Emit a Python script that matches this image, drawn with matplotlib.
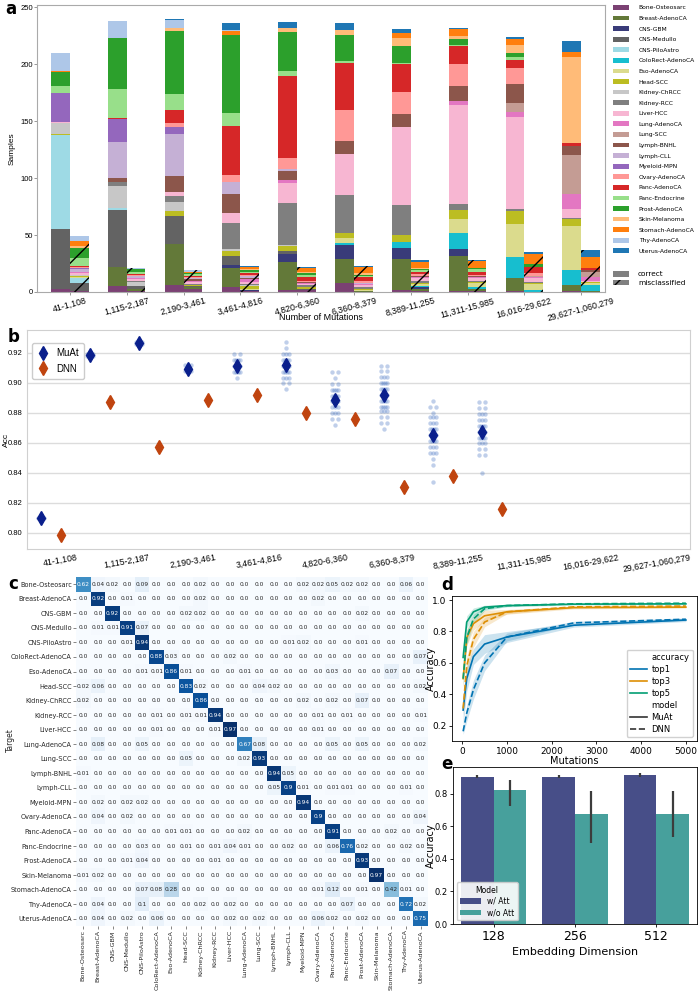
import numpy as np
import matplotlib
matplotlib.use("Agg")
import matplotlib.pyplot as plt
from matplotlib.patches import Patch
from matplotlib.lines import Line2D

# ---------------- data ----------------
classes = ["Bone-Osteosarc", "Breast-AdenoCA", "CNS-GBM", "CNS-Medullo", "CNS-PiloAstro",
           "ColoRect-AdenoCA", "Eso-AdenoCA", "Head-SCC", "Kidney-ChRCC", "Kidney-RCC",
           "Liver-HCC", "Lung-AdenoCA", "Lung-SCC", "Lymph-BNHL", "Lymph-CLL",
           "Myeloid-MPN", "Ovary-AdenoCA", "Panc-AdenoCA", "Panc-Endocrine", "Prost-AdenoCA",
           "Skin-Melanoma", "Stomach-AdenoCA", "Thy-AdenoCA", "Uterus-AdenoCA"]
class_colors = ["#7b4173", "#637939", "#393b79", "#636363", "#9edae5", "#17becf", "#dbdb8d",
                "#bcbd22", "#c7c7c7", "#7f7f7f", "#f7b6d2", "#e377c2", "#c49c94", "#8c564b",
                "#c5b0d5", "#9467bd", "#ff9896", "#d62728", "#98df8a", "#2ca02c", "#ffbb78",
                "#ff7f0e", "#aec7e8", "#1f77b4"]
mut_bins = ["41-1,108", "1,115-2,187", "2,190-3,461", "3,461-4,816", "4,820-6,360",
            "6,360-8,379", "8,389-11,255", "11,311-15,985", "16,016-29,622", "29,627-1,060,279"]

# panel a: samples per class (class order above), correct / misclassified per mutation bin
correct_b1 = [3, 0, 0, 52, 83, 0, 0, 1, 9, 0, 1, 0, 0, 0, 0, 26, 0, 0, 6, 12, 0, 1, 16, 0]
correct_b2 = [5, 17, 0, 50, 2, 0, 0, 0, 19, 4, 0, 0, 0, 3, 32, 20, 0, 1, 25, 45, 0, 0, 15, 0]
correct_b3 = [6, 36, 0, 25, 0, 0, 0, 4, 8, 5, 4, 0, 0, 14, 37, 6, 3, 12, 14, 55, 3, 0, 7, 1]
correct_b4 = [4, 17, 3, 8, 0, 0, 0, 4, 2, 23, 8, 0, 0, 17, 11, 0, 6, 43, 11, 69, 0, 3, 1, 6]
correct_b5 = [2, 24, 7, 3, 0, 0, 0, 4, 1, 37, 18, 2, 0, 8, 2, 0, 10, 72, 4, 34, 4, 0, 0, 5]
correct_b6 = [8, 21, 12, 0, 0, 2, 4, 5, 0, 33, 36, 0, 0, 12, 0, 0, 27, 41, 2, 23, 4, 0, 0, 6]
correct_b7 = [2, 27, 10, 0, 0, 5, 0, 6, 0, 26, 69, 0, 0, 11, 0, 0, 20, 24, 1, 15, 7, 4, 0, 4]
correct_b8 = [1, 31, 6, 0, 0, 14, 12, 8, 0, 5, 87, 4, 0, 13, 0, 0, 19, 16, 1, 5, 3, 6, 0, 1]
correct_b9 = [1, 11, 0, 0, 0, 19, 29, 11, 0, 2, 81, 4, 8, 17, 0, 0, 14, 7, 2, 4, 7, 5, 0, 2]
correct_b10 = [1, 5, 0, 0, 0, 13, 39, 6, 0, 1, 8, 13, 34, 8, 0, 0, 0, 3, 0, 0, 75, 5, 0, 9]

wrong_b1 = [1, 0, 0, 7, 4, 0, 1, 1, 1, 0, 2, 1, 0, 0, 2, 1, 1, 1, 7, 9, 1, 5, 4, 0]
wrong_b2 = [1, 2, 0, 2, 0, 0, 0, 0, 4, 1, 1, 1, 0, 0, 2, 0, 1, 1, 2, 2, 0, 0, 1, 0]
wrong_b3 = [3, 1, 0, 1, 0, 0, 0, 1, 0, 1, 2, 1, 0, 1, 1, 0, 1, 1, 2, 1, 0, 1, 1, 0]
wrong_b4 = [1, 0, 1, 0, 0, 0, 1, 2, 1, 1, 2, 2, 0, 1, 2, 0, 1, 2, 1, 1, 1, 2, 0, 1]
wrong_b5 = [2, 0, 0, 1, 0, 0, 0, 1, 0, 2, 1, 1, 0, 1, 0, 0, 1, 3, 2, 2, 1, 3, 0, 1]
wrong_b6 = [0, 1, 0, 0, 0, 0, 1, 1, 0, 1, 2, 1, 0, 0, 1, 0, 2, 3, 1, 1, 2, 5, 0, 1]
wrong_b7 = [1, 2, 1, 0, 0, 1, 2, 1, 0, 2, 2, 1, 0, 1, 0, 0, 2, 2, 1, 1, 1, 5, 0, 2]
wrong_b8 = [1, 2, 0, 0, 0, 1, 4, 1, 0, 1, 2, 1, 0, 1, 0, 0, 1, 3, 2, 1, 0, 6, 0, 1]
wrong_b9 = [0, 0, 0, 0, 0, 2, 5, 1, 0, 1, 3, 1, 1, 0, 0, 0, 3, 5, 0, 3, 0, 8, 0, 2]
wrong_b10 = [0, 1, 0, 0, 0, 5, 2, 1, 0, 0, 1, 3, 5, 1, 0, 0, 0, 2, 0, 0, 0, 10, 0, 6]

# panel b: accuracy per mutation bin
muat_acc = [0.810, 0.9184, 0.9264, 0.9095, 0.9111, 0.9118, 0.8884, 0.8922, 0.8653, 0.8671]
muat_err = [0.002, 0.002, 0.002, 0.002, 0.003, 0.003, 0.003, 0.003, 0.003, 0.003]
dnn_acc = [0.7982, 0.8873, 0.8573, 0.8887, 0.8916, 0.8800, 0.8758, 0.8307, 0.8378, 0.8160]
dnn_err = [0.0015, 0.0015, 0.0015, 0.0015, 0.0015, 0.0015, 0.0015, 0.0015, 0.0015, 0.0015]
# individual MuAt runs: accuracy levels and how many runs at each level
runs_lv_0 = [0.809, 0.810, 0.811]; runs_n_0 = [1, 3, 1]
runs_lv_1 = [0.918, 0.919]; runs_n_1 = [2, 2]
runs_lv_2 = [0.926, 0.927]; runs_n_2 = [2, 2]
runs_lv_3 = [0.908, 0.912]; runs_n_3 = [3, 3]
runs_lv_4 = [0.903, 0.907, 0.911, 0.915, 0.919]; runs_n_4 = [1, 4, 6, 4, 2]
runs_lv_5 = [0.896, 0.900, 0.903, 0.907, 0.911, 0.915, 0.919, 0.923, 0.927]
runs_n_5 = [1, 2, 3, 4, 5, 4, 3, 1, 1]
runs_lv_6 = [0.872, 0.876, 0.880, 0.884, 0.888, 0.891, 0.895, 0.899, 0.903, 0.907]
runs_n_6 = [1, 2, 3, 3, 5, 4, 4, 2, 1, 2]
runs_lv_7 = [0.869, 0.873, 0.877, 0.881, 0.884, 0.888, 0.892, 0.896, 0.900, 0.904, 0.908, 0.911]
runs_n_7 = [1, 2, 2, 3, 4, 4, 5, 4, 4, 3, 2, 2]
runs_lv_8 = [0.834, 0.845, 0.849, 0.853, 0.857, 0.861, 0.865, 0.869, 0.873, 0.877, 0.880, 0.884, 0.888]
runs_n_8 = [1, 1, 1, 3, 3, 4, 5, 4, 3, 3, 1, 2, 1]
runs_lv_9 = [0.840, 0.852, 0.856, 0.860, 0.863, 0.867, 0.871, 0.875, 0.879, 0.883, 0.887]
runs_n_9 = [1, 2, 2, 3, 4, 5, 4, 3, 3, 2, 2]

# panel c: confusion matrix rows (target) x columns (prediction)
cm_bone = [0.62, 0.04, 0.02, 0.0, 0.09, 0.0, 0.0, 0.0, 0.02, 0.0, 0.0, 0.0, 0.0, 0.0, 0.0, 0.02, 0.02, 0.05, 0.02, 0.02, 0.0, 0.0, 0.06, 0.0]
cm_breast = [0.0, 0.92, 0.0, 0.01, 0.0, 0.0, 0.0, 0.0, 0.02, 0.0, 0.0, 0.0, 0.0, 0.0, 0.0, 0.0, 0.02, 0.0, 0.0, 0.0, 0.0, 0.0, 0.0, 0.0]
cm_gbm = [0.0, 0.0, 0.92, 0.0, 0.0, 0.0, 0.0, 0.02, 0.02, 0.0, 0.0, 0.0, 0.0, 0.0, 0.0, 0.0, 0.0, 0.0, 0.0, 0.02, 0.0, 0.0, 0.0, 0.0]
cm_medullo = [0.0, 0.01, 0.01, 0.91, 0.07, 0.0, 0.0, 0.0, 0.0, 0.0, 0.0, 0.0, 0.0, 0.0, 0.0, 0.0, 0.0, 0.0, 0.0, 0.0, 0.0, 0.0, 0.0, 0.0]
cm_pilo = [0.0, 0.0, 0.0, 0.01, 0.94, 0.0, 0.0, 0.0, 0.0, 0.0, 0.0, 0.0, 0.0, 0.0, 0.01, 0.02, 0.0, 0.0, 0.0, 0.01, 0.0, 0.0, 0.0, 0.0]
cm_colorect = [0.0, 0.0, 0.0, 0.0, 0.0, 0.88, 0.03, 0.0, 0.0, 0.0, 0.02, 0.0, 0.0, 0.0, 0.0, 0.0, 0.0, 0.0, 0.0, 0.0, 0.0, 0.0, 0.0, 0.07]
cm_eso = [0.0, 0.0, 0.0, 0.0, 0.01, 0.01, 0.86, 0.01, 0.0, 0.0, 0.0, 0.01, 0.0, 0.0, 0.0, 0.0, 0.0, 0.03, 0.0, 0.0, 0.0, 0.07, 0.0, 0.0]
cm_head = [0.02, 0.06, 0.0, 0.0, 0.0, 0.0, 0.0, 0.83, 0.02, 0.0, 0.0, 0.0, 0.04, 0.02, 0.0, 0.0, 0.0, 0.0, 0.0, 0.0, 0.0, 0.0, 0.0, 0.02]
cm_chrcc = [0.02, 0.0, 0.0, 0.0, 0.0, 0.0, 0.0, 0.0, 0.86, 0.0, 0.0, 0.0, 0.0, 0.0, 0.0, 0.02, 0.0, 0.02, 0.0, 0.07, 0.0, 0.0, 0.0, 0.0]
cm_rcc = [0.0, 0.0, 0.0, 0.0, 0.0, 0.01, 0.0, 0.01, 0.01, 0.94, 0.0, 0.0, 0.0, 0.0, 0.0, 0.0, 0.01, 0.0, 0.01, 0.0, 0.0, 0.0, 0.0, 0.01]
cm_liver = [0.0, 0.0, 0.0, 0.0, 0.0, 0.01, 0.0, 0.0, 0.0, 0.01, 0.97, 0.0, 0.0, 0.0, 0.0, 0.0, 0.01, 0.0, 0.0, 0.0, 0.0, 0.0, 0.0, 0.0]
cm_lungad = [0.0, 0.08, 0.0, 0.0, 0.05, 0.0, 0.0, 0.0, 0.0, 0.0, 0.0, 0.67, 0.08, 0.0, 0.0, 0.0, 0.0, 0.05, 0.0, 0.05, 0.0, 0.0, 0.0, 0.02]
cm_lungscc = [0.0, 0.0, 0.0, 0.0, 0.0, 0.0, 0.0, 0.05, 0.0, 0.0, 0.0, 0.02, 0.93, 0.0, 0.0, 0.0, 0.0, 0.0, 0.0, 0.0, 0.0, 0.0, 0.0, 0.0]
cm_bnhl = [0.01, 0.0, 0.0, 0.0, 0.0, 0.0, 0.0, 0.0, 0.0, 0.0, 0.0, 0.0, 0.0, 0.94, 0.05, 0.0, 0.0, 0.0, 0.0, 0.0, 0.0, 0.0, 0.0, 0.0]
cm_cll = [0.0, 0.0, 0.0, 0.0, 0.0, 0.0, 0.0, 0.0, 0.0, 0.0, 0.0, 0.0, 0.0, 0.05, 0.9, 0.01, 0.0, 0.01, 0.01, 0.0, 0.0, 0.0, 0.01, 0.0]
cm_myeloid = [0.0, 0.02, 0.0, 0.02, 0.02, 0.0, 0.0, 0.0, 0.0, 0.0, 0.0, 0.0, 0.0, 0.0, 0.0, 0.94, 0.0, 0.0, 0.0, 0.0, 0.0, 0.0, 0.0, 0.0]
cm_ovary = [0.0, 0.04, 0.0, 0.02, 0.0, 0.0, 0.0, 0.0, 0.0, 0.0, 0.0, 0.0, 0.0, 0.0, 0.0, 0.0, 0.9, 0.0, 0.0, 0.0, 0.0, 0.0, 0.0, 0.04]
cm_pancad = [0.0, 0.0, 0.0, 0.0, 0.0, 0.0, 0.01, 0.01, 0.0, 0.0, 0.0, 0.02, 0.0, 0.0, 0.0, 0.0, 0.0, 0.91, 0.0, 0.0, 0.0, 0.02, 0.0, 0.0]
cm_pancendo = [0.0, 0.0, 0.0, 0.0, 0.03, 0.0, 0.0, 0.01, 0.0, 0.01, 0.04, 0.01, 0.0, 0.0, 0.02, 0.0, 0.0, 0.06, 0.76, 0.02, 0.0, 0.0, 0.02, 0.0]
cm_prost = [0.0, 0.0, 0.0, 0.01, 0.04, 0.0, 0.0, 0.0, 0.0, 0.01, 0.0, 0.0, 0.0, 0.0, 0.0, 0.0, 0.0, 0.0, 0.0, 0.93, 0.0, 0.0, 0.0, 0.0]
cm_skin = [0.01, 0.02, 0.0, 0.0, 0.0, 0.0, 0.0, 0.0, 0.0, 0.0, 0.0, 0.0, 0.0, 0.0, 0.0, 0.0, 0.0, 0.0, 0.0, 0.0, 0.97, 0.0, 0.0, 0.0]
cm_stomach = [0.0, 0.0, 0.0, 0.0, 0.07, 0.08, 0.28, 0.0, 0.0, 0.0, 0.0, 0.0, 0.0, 0.0, 0.0, 0.0, 0.01, 0.12, 0.0, 0.01, 0.0, 0.42, 0.01, 0.0]
cm_thy = [0.0, 0.04, 0.0, 0.0, 0.1, 0.0, 0.0, 0.0, 0.02, 0.0, 0.02, 0.0, 0.0, 0.0, 0.0, 0.0, 0.0, 0.0, 0.07, 0.0, 0.0, 0.0, 0.72, 0.02]
cm_uterus = [0.0, 0.04, 0.0, 0.02, 0.0, 0.06, 0.0, 0.0, 0.0, 0.0, 0.02, 0.0, 0.02, 0.0, 0.0, 0.0, 0.06, 0.02, 0.0, 0.02, 0.0, 0.0, 0.0, 0.75]

# panel d: accuracy vs number of mutations
mut_x = [20, 100, 250, 500, 1000, 2500, 5000]
muat_top1 = [0.30, 0.50, 0.64, 0.72, 0.765, 0.84, 0.873]
muat_top3 = [0.50, 0.76, 0.85, 0.90, 0.925, 0.952, 0.955]
muat_top5 = [0.635, 0.86, 0.925, 0.955, 0.965, 0.974, 0.976]
dnn_top1 = [0.165, 0.28, 0.43, 0.60, 0.765, 0.855, 0.878]
dnn_top3 = [0.31, 0.58, 0.75, 0.86, 0.925, 0.957, 0.962]
dnn_top5 = [0.50, 0.76, 0.88, 0.945, 0.965, 0.976, 0.98]
muat_top1_ci = [0.10, 0.08, 0.05, 0.06, 0.035, 0.012, 0.01]
muat_top3_ci = [0.06, 0.05, 0.04, 0.035, 0.015, 0.008, 0.006]
muat_top5_ci = [0.05, 0.04, 0.025, 0.012, 0.008, 0.005, 0.005]
dnn_top1_ci = [0.02, 0.05, 0.06, 0.05, 0.025, 0.01, 0.008]
dnn_top3_ci = [0.04, 0.06, 0.05, 0.03, 0.012, 0.006, 0.005]
dnn_top5_ci = [0.05, 0.05, 0.03, 0.012, 0.006, 0.004, 0.004]

# panel e: embedding dimension
emb_dims = ["128", "256", "512"]
acc_with_att = [0.906, 0.907, 0.917]
ci_with_lo = [0.896, 0.898, 0.906]
ci_with_hi = [0.918, 0.918, 0.930]
acc_without_att = [0.825, 0.675, 0.675]
ci_without_lo = [0.726, 0.497, 0.534]
ci_without_hi = [0.886, 0.820, 0.820]

# ---------------- figure ----------------
plt.rcParams['font.family'] = ['DejaVu Sans']
W, H = 700, 991
fig = plt.figure(figsize=(7, 9.91), dpi=100)


def ax_px(l, t, r, b):
    return fig.add_axes([l / W, 1 - b / H, (r - l) / W, (b - t) / H])


ARIAL = ['Liberation Sans', 'DejaVu Sans']

# ---- panel a ----
ax_a = ax_px(37, 5, 605, 292)
correct = np.array([correct_b1, correct_b2, correct_b3, correct_b4, correct_b5,
                    correct_b6, correct_b7, correct_b8, correct_b9, correct_b10], float).T
wrong = np.array([wrong_b1, wrong_b2, wrong_b3, wrong_b4, wrong_b5,
                  wrong_b6, wrong_b7, wrong_b8, wrong_b9, wrong_b10], float).T
xg = np.arange(len(mut_bins))
bw = 0.33
bot_c = np.zeros(len(xg))
bot_w = np.zeros(len(xg))
for k, col in enumerate(class_colors):
    ax_a.bar(xg - bw / 2, correct[k], bw, bottom=bot_c, color=col, linewidth=0)
    ax_a.bar(xg + bw / 2, wrong[k], bw, bottom=bot_w, color=col, edgecolor='black',
             linewidth=0, hatch='/')
    bot_c += correct[k]
    bot_w += wrong[k]
ax_a.set_xlim(-0.58, 9.42)
ax_a.set_ylim(0, 252)
ax_a.set_yticks([0, 50, 100, 150, 200, 250])
ax_a.set_xticks(xg)
ax_a.set_xticklabels(mut_bins, rotation=15, fontsize=6.3, family=ARIAL)
for lab in ax_a.get_yticklabels():
    lab.set_fontsize(5.5)
    lab.set_family(ARIAL)
ax_a.tick_params(length=2, width=0.6, color='#888888', pad=1.0)
for s in ax_a.spines.values():
    s.set_color('#aaaaaa')
    s.set_linewidth(0.8)
ax_a.set_ylabel("Samples", fontsize=6, family=ARIAL, labelpad=3)
ax_a.set_xlabel("Number of Mutations", fontsize=6.5, family=ARIAL)
ax_a.xaxis.set_label_coords(0.5, -(318 - 292) / 287, transform=ax_a.transAxes)
ax_a.xaxis.label.set_va('center')

cls_handles = [Patch(facecolor=c, edgecolor='none', label=n) for n, c in zip(classes, class_colors)]
fig.legend(handles=cls_handles, loc='upper left', bbox_to_anchor=(613 / W, 1 - 5 / H),
           frameon=False, fontsize=4.3, handlelength=2.7, handleheight=0.85,
           labelspacing=0.86, handletextpad=1.6, borderaxespad=0, borderpad=0)
kind_handles = [Patch(facecolor='#808080', edgecolor='none', label='correct'),
                Patch(facecolor='#808080', edgecolor='black', linewidth=0, hatch='/',
                      label='misclassified')]
fig.legend(handles=kind_handles, loc='upper left', bbox_to_anchor=(613 / W, 1 - 271 / H),
           frameon=False, fontsize=5.3, handlelength=2.2, handleheight=0.8,
           labelspacing=0.3, handletextpad=1.2, borderaxespad=0, borderpad=0)

# ---- panel b ----
ax_b = ax_px(27, 330, 690, 549)
ax_b.set_xlim(-0.5, 9.5)
ax_b.set_ylim(0.789, 0.9353)
ax_b.set_axisbelow(True)
ax_b.yaxis.grid(True, color='#dcdcdc', linewidth=1.0)
for s in ax_b.spines.values():
    s.set_color('#d0d0d0')
    s.set_linewidth(0.8)
cat_idx = np.arange(len(mut_bins))
muat_pos = cat_idx * 0.739 - 0.287
dnn_pos = muat_pos + 0.302
run_levels = [runs_lv_0, runs_lv_1, runs_lv_2, runs_lv_3, runs_lv_4,
              runs_lv_5, runs_lv_6, runs_lv_7, runs_lv_8, runs_lv_9]
run_counts = [runs_n_0, runs_n_1, runs_n_2, runs_n_3, runs_n_4,
              runs_n_5, runs_n_6, runs_n_7, runs_n_8, runs_n_9]
for i in cat_idx:
    xs, ys = [], []
    for lv, n in zip(run_levels[i], run_counts[i]):
        offs = np.linspace(-0.05, 0.05, n) if n > 1 else np.array([0.0])
        xs.extend(muat_pos[i] + offs)
        ys.extend([lv] * n)
    ax_b.scatter(xs, ys, s=10, color='#3d6cc0', alpha=0.32, linewidths=0, zorder=2)
eb_m = ax_b.errorbar(muat_pos, muat_acc, yerr=muat_err, fmt='d', color='#0a1f8c', ms=7.5,
                     elinewidth=1.6, capsize=0, label='MuAt', zorder=4)
eb_d = ax_b.errorbar(dnn_pos, dnn_acc, yerr=dnn_err, fmt='d', color='#c0440f', ms=7.5,
                     elinewidth=1.6, capsize=0, label='DNN', zorder=4)
ax_b.set_yticks([0.80, 0.82, 0.84, 0.86, 0.88, 0.90, 0.92])
ax_b.set_yticklabels(["0.80", "0.82", "0.84", "0.86", "0.88", "0.90", "0.92"],
                     fontsize=5.5, family=ARIAL)
ax_b.set_xticks(cat_idx)
ax_b.set_xticklabels(mut_bins, rotation=10, fontsize=6.3, family=ARIAL)
ax_b.tick_params(length=0, pad=3)
ax_b.set_ylabel("Acc", fontsize=6, family=ARIAL)
ax_b.yaxis.set_label_coords(-0.026, 0.5)
ax_b.legend(handles=[eb_m, eb_d], loc='upper left', bbox_to_anchor=(0.0075, 0.94),
            prop={'family': ARIAL, 'size': 7}, frameon=True,
            edgecolor='#cccccc', framealpha=1, handlelength=1.2, borderpad=0.5,
            labelspacing=0.6, borderaxespad=0)

# ---- panel c ----
ax_c = ax_px(76, 577, 428, 926)
cm = np.array([cm_bone, cm_breast, cm_gbm, cm_medullo, cm_pilo, cm_colorect, cm_eso,
               cm_head, cm_chrcc, cm_rcc, cm_liver, cm_lungad, cm_lungscc, cm_bnhl,
               cm_cll, cm_myeloid, cm_ovary, cm_pancad, cm_pancendo, cm_prost, cm_skin,
               cm_stomach, cm_thy, cm_uterus], float)
ax_c.imshow(cm, cmap='Blues', aspect='auto', vmin=0, vmax=cm.max(), interpolation='nearest')
for i in range(cm.shape[0]):
    for j in range(cm.shape[1]):
        v = cm[i, j]
        ax_c.text(j, i, f"{v}", ha='center', va='center', fontsize=4.2,
                  color='white' if v > 0.5 else '#262626')
ax_c.set_xticks(np.arange(len(classes)))
ax_c.set_yticks(np.arange(len(classes)))
ax_c.set_xticklabels(classes, rotation=90, fontsize=4.6, color='#262626')
ax_c.set_yticklabels(classes, fontsize=4.7, color='#262626')
ax_c.tick_params(length=2, width=0.5, color='#555555', pad=1)
for s in ax_c.spines.values():
    s.set_visible(False)
ax_c.set_xlabel("Prediction", fontsize=5.5, labelpad=1, color='#262626')
fig.text(10 / W, 1 - 740 / H, "Target", rotation=90, fontsize=5.5, ha='center',
         va='center', color='#262626')

# ---- panel d ----
ax_d = ax_px(452, 596, 697, 741)
pal = ['#0173b2', '#de8f05', '#029e73']
series = [(muat_top1, muat_top1_ci, dnn_top1, dnn_top1_ci),
          (muat_top3, muat_top3_ci, dnn_top3, dnn_top3_ci),
          (muat_top5, muat_top5_ci, dnn_top5, dnn_top5_ci)]
mx = np.array(mut_x, float)
for col, (m, mci, d, dci) in zip(pal, series):
    m = np.array(m); mci = np.array(mci); d = np.array(d); dci = np.array(dci)
    ax_d.fill_between(mx, m - mci, m + mci, color=col, alpha=0.2, linewidth=0)
    ax_d.plot(mx, m, color=col, lw=1.2, ls='-')
    ax_d.fill_between(mx, d - dci, d + dci, color=col, alpha=0.2, linewidth=0)
    ax_d.plot(mx, d, color=col, lw=1.2, ls='--')
ax_d.set_xticks([0, 1000, 2000, 3000, 4000, 5000])
ax_d.set_yticks([0.2, 0.4, 0.6, 0.8, 1.0])
ax_d.tick_params(labelsize=6.5, length=2.5, width=0.6, pad=1.5)
ax_d.set_xlabel("Mutations", fontsize=7, labelpad=0)
ax_d.set_ylabel("Accuracy", fontsize=7)
ax_d.yaxis.set_label_coords(-0.066, 0.5)
for s in ax_d.spines.values():
    s.set_linewidth(0.6)
lh = [Line2D([], [], color='none', label='accuracy'),
      Line2D([], [], color=pal[0], lw=1.2, label='top1'),
      Line2D([], [], color=pal[1], lw=1.2, label='top3'),
      Line2D([], [], color=pal[2], lw=1.2, label='top5'),
      Line2D([], [], color='none', label='model'),
      Line2D([], [], color='#333333', lw=1.2, label='MuAt'),
      Line2D([], [], color='#333333', lw=1.2, ls='--', label='DNN')]
ax_d.legend(handles=lh, loc='lower right', fontsize=6, frameon=True, edgecolor='#cccccc',
            framealpha=0.9, handlelength=2.0, labelspacing=0.35, borderpad=0.4,
            handletextpad=0.6)

# ---- panel e ----
ax_e = ax_px(453, 767, 697, 924)
xe = np.arange(len(emb_dims))
bwe = 0.4
w_lo = np.array(acc_with_att) - np.array(ci_with_lo)
w_hi = np.array(ci_with_hi) - np.array(acc_with_att)
o_lo = np.array(acc_without_att) - np.array(ci_without_lo)
o_hi = np.array(ci_without_hi) - np.array(acc_without_att)
ax_e.bar(xe - bwe / 2, acc_with_att, bwe, color='#474e88', label='w/ Att',
         yerr=[w_lo, w_hi], error_kw=dict(ecolor='#3c3c3c', elinewidth=1.6, capsize=0))
ax_e.bar(xe + bwe / 2, acc_without_att, bwe, color='#47a09c', label='w/o Att',
         yerr=[o_lo, o_hi], error_kw=dict(ecolor='#3c3c3c', elinewidth=1.6, capsize=0))
ax_e.set_xlim(-0.5, 2.5)
ax_e.set_ylim(0, 0.966)
ax_e.set_xticks(xe)
ax_e.set_xticklabels(emb_dims, fontsize=9)
ax_e.set_yticks([0.0, 0.2, 0.4, 0.6, 0.8])
ax_e.tick_params(axis='y', labelsize=6, length=2.5, width=0.6, pad=1.5)
ax_e.tick_params(axis='x', length=2.5, width=0.6, pad=2)
ax_e.set_xlabel("Embedding Dimension", fontsize=8, labelpad=3)
ax_e.set_ylabel("Accuracy", fontsize=7)
ax_e.yaxis.set_label_coords(-0.07, 0.5)
for s in ax_e.spines.values():
    s.set_linewidth(0.6)
ax_e.legend(title='Model', loc='lower left', fontsize=5.5, title_fontsize=5.5,
            frameon=True, edgecolor='#cccccc', framealpha=0.9, handlelength=2.8,
            borderpad=0.4, labelspacing=0.3)

# ---- panel letters ----
for lab, xp, yp in [("a", 5, 9), ("b", 8, 337), ("c", 8, 584), ("d", 441, 585), ("e", 441, 764)]:
    fig.text(xp / W, 1 - yp / H, lab, fontsize=12, fontweight='bold', ha='left', va='center')

fig.savefig("out.png", dpi=100)
